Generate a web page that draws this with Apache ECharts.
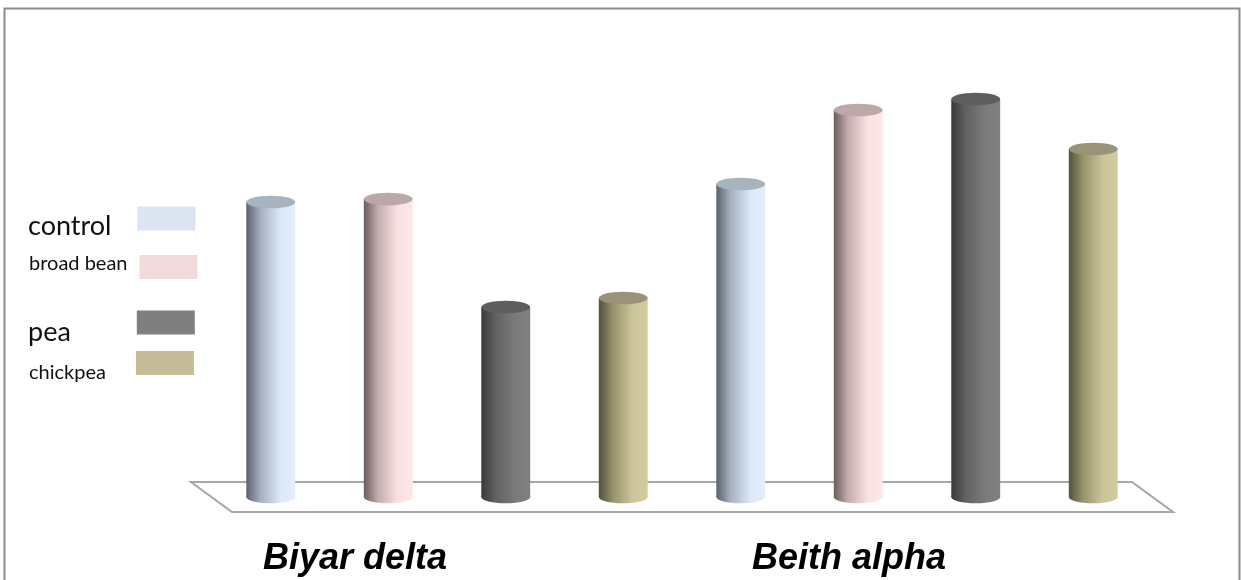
<!DOCTYPE html>
<html>
<head>
<meta charset="utf-8">
<title>Cylinders</title>
<script src="https://cdn.jsdelivr.net/npm/echarts@6/dist/echarts.min.js"></script>
<style>
  html, body { margin: 0; padding: 0; background: #fff; }
  #chart { width: 1241px; height: 580px; }
</style>
</head>
<body>
<div id="chart"></div>
<script>
const categories = ['Biyar delta', 'Beith alpha'];
const seriesNames = ['control', 'broad bean', 'pea', 'chickpea'];
const control = [29.5, 31.3];
const broadBean = [29.8, 38.7];
const pea = [19.0, 39.8];
const chickpea = [19.9, 34.8];

const values = [control, broadBean, pea, chickpea];
const swatch = ['#dbe5f1', '#f2dcdb', '#7f7f7f', '#c4bd97'];
const bodyStops = [
    ['#5b626c', '#a6b2c0', '#dce8f7', '#e4eefc'],
    ['#6b5c5c', '#c7aeae', '#fbe2e2', '#ffe7e7'],
    ['#3a3a3a', '#626262', '#7b7b7b', '#808080'],
    ['#535139', '#99946f', '#cdc59a', '#d3cba0']
];
const topColor = ['#a7b3bd', '#bca8a8', '#5e5e5e', '#999378'];

const chart = echarts.init(document.getElementById('chart'));

const cylinder = (i) => (params, api) => {
    const base = api.coord([api.value(0), 0]);
    const top = api.coord([api.value(0), api.value(1)]);
    const band = api.size([1, 0])[0];
    const cx = top[0] + (i - 1.5) * band * 0.25;
    const w = band * 0.104;
    const ry = w * 0.13;
    const s = bodyStops[i];
    const grad = {
        type: 'linear', x: 0, y: 0, x2: 1, y2: 0,
        colorStops: [
            {offset: 0, color: s[0]},
            {offset: 0.3, color: s[1]},
            {offset: 0.7, color: s[2]},
            {offset: 1, color: s[3]}
        ]
    };
    return {
        type: 'group',
        children: [
            {type: 'ellipse', shape: {cx: cx, cy: base[1], rx: w / 2, ry: ry}, style: {fill: grad}},
            {type: 'rect', shape: {x: cx - w / 2, y: top[1], width: w, height: base[1] - top[1]}, style: {fill: grad}},
            {type: 'ellipse', shape: {cx: cx, cy: top[1], rx: w / 2, ry: ry}, style: {fill: topColor[i]}}
        ]
    };
};

const floor = (params) => {
    const c = params.coordSys;
    const yb = c.y + c.height;
    return {
        type: 'polygon',
        shape: {
            points: [
                [c.x - 21, yb - 15],
                [c.x + c.width - 20, yb - 15],
                [c.x + c.width + 21, yb + 15],
                [c.x + 20, yb + 15]
            ]
        },
        style: {fill: '#fff', stroke: '#a6a6a6', lineWidth: 2}
    };
};

// shift: >0 pushes the text down from the swatch middle, <0 up
const legendLayout = [
    {left: 28, top: 197, fontSize: 27, gap: 26, shift: 8},
    {left: 29, top: 254, fontSize: 20, gap: 12, shift: -3},
    {left: 28, top: 299, fontSize: 27, gap: 66, shift: 10},
    {left: 29, top: 343, fontSize: 20, gap: 30, shift: 10}
];

chart.setOption({
    animation: false,
    graphic: [{
        type: 'rect',
        left: 2, top: 6,
        shape: {width: 1235, height: 600},
        style: {fill: 'none', stroke: '#8c8c8c', lineWidth: 2},
        z: 0
    }],
    legend: legendLayout.map((l, i) => ({
        left: l.left,
        top: l.top,
        padding: 0,
        align: 'right',
        selectedMode: false,
        icon: 'rect',
        itemWidth: 58,
        itemHeight: 24,
        formatter: (name) => (l.shift > 0 ? '\n' + name : name + '\n'),
        textStyle: {
            fontFamily: 'Lato',
            fontSize: l.fontSize,
            lineHeight: Math.abs(l.shift) * 2,
            color: '#111',
            padding: [0, l.gap - 5, 0, 0]
        },
        data: [{name: seriesNames[i], itemStyle: {color: swatch[i]}}]
    })),
    grid: {left: 212, right: 89, top: 47, bottom: 83},
    xAxis: {
        type: 'category',
        data: [
            {value: categories[0], textStyle: {padding: [0, 184, 0, 0]}},
            {value: categories[1], textStyle: {padding: [0, 136, 0, 0]}}
        ],
        axisLine: {show: false},
        axisTick: {show: false},
        axisLabel: {
            margin: 44,
            fontFamily: 'Liberation Sans',
            fontSize: 36,
            fontWeight: 'bold',
            fontStyle: 'italic',
            color: '#000'
        }
    },
    yAxis: {type: 'value', show: false, min: 0, max: 45},
    series: [
        {
            type: 'custom',
            name: 'floor',
            z: 1,
            silent: true,
            renderItem: floor,
            data: [[0, 0]]
        }
    ].concat(seriesNames.map((name, i) => ({
        type: 'custom',
        name: name,
        z: 2,
        itemStyle: {color: swatch[i]},
        renderItem: cylinder(i),
        encode: {x: 0, y: 1},
        data: values[i].map((v, k) => [k, v])
    })))
});
</script>
</body>
</html>
